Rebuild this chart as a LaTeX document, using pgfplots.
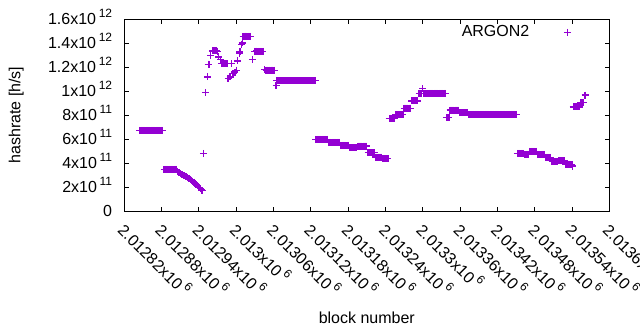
\documentclass[border=0pt]{standalone}
\usepackage{fontspec}
\setmainfont{Liberation Sans}
\usepackage{pgfplots}
\pgfplotsset{compat=1.18}
\usepackage{pgfplotstable}
\definecolor{argon}{RGB}{148,0,211}
\newcommand{\ex}[1]{\,\raisebox{0.48em}{\fontsize{12bp}{12bp}\selectfont #1}}
\newcommand{\bigf}{\fontsize{16bp}{19bp}\selectfont}
% x = block number - 2012820, y = hashrate in units of 1e11 h/s
\pgfplotstableread{
x y
25 6.72
27 6.72
29 6.72
31 6.72
33 6.72
35 6.72
37 6.72
39 6.72
41 6.72
43 6.72
45 6.72
47 6.72
49 6.72
51 6.72
53 6.72
55 6.72
57 6.72
59 6.72
61 6.72
64 3.47
66 3.47
68 3.47
70 3.47
72 3.47
74 3.47
76 3.47
78 3.47
80 3.47
82 3.47
84 3.47
86 3.30
88 3.20
90 3.12
92 3.06
94 3.01
96 2.96
98 2.91
100 2.86
102 2.80
104 2.73
106 2.65
108 2.57
110 2.49
112 2.40
114 2.31
116 2.20
118 2.09
120 1.97
122 1.86
124 1.75
125 1.70
127 4.81
131 9.89
134 11.19
135 12.25
136 12.20
139 12.95
142 13.36
144 13.36
146 13.38
148 13.36
150 13.34
152 12.86
155 12.64
157 12.31
159 12.31
161 12.33
163 12.31
165 12.30
167 11.06
170 11.19
172 12.30
175 11.47
178 11.60
181 11.75
182 12.53
185 13.14
186 13.28
189 13.92
190 14.03
191 14.58
193 14.58
195 14.60
197 14.58
199 14.58
201 14.57
203 14.58
206 12.64
209 13.33
211 13.33
213 13.35
215 13.33
217 13.33
219 13.32
221 13.33
223 13.33
226 11.80
228 11.75
230 11.75
232 11.73
234 11.75
236 11.75
238 11.75
240 11.72
242 11.75
244 10.47
245 10.88
247 10.88
249 10.88
251 10.88
253 10.88
255 10.88
257 10.88
259 10.88
261 10.88
263 10.88
265 10.88
267 10.88
269 10.88
271 10.88
273 10.88
275 10.88
277 10.88
279 10.88
281 10.88
283 10.88
285 10.88
287 10.88
289 10.88
291 10.88
293 10.88
295 10.88
297 10.88
299 10.88
301 10.88
303 10.88
305 10.88
307 10.88
308 5.97
310 5.97
312 5.97
314 5.97
316 5.97
318 5.97
320 5.97
322 5.97
324 5.97
326 5.97
328 5.72
330 5.72
332 5.72
334 5.72
336 5.72
338 5.72
340 5.72
342 5.72
344 5.72
346 5.72
348 5.48
350 5.48
352 5.48
354 5.48
356 5.48
358 5.48
360 5.48
362 5.30
364 5.30
366 5.30
368 5.30
370 5.30
372 5.30
374 5.30
376 5.42
378 5.42
380 5.42
382 5.42
384 5.42
386 5.42
388 5.42
390 5.42
392 4.88
394 4.88
396 4.88
398 4.88
400 4.88
402 4.88
404 4.50
406 4.50
408 4.50
410 4.50
412 4.50
414 4.50
416 4.36
418 4.36
420 4.36
422 4.36
424 4.36
426 7.72
428 7.72
430 7.72
432 7.72
434 7.72
436 8.03
438 8.03
440 8.03
442 8.03
444 8.03
446 8.03
448 8.03
450 8.58
452 8.58
454 8.58
456 8.58
458 8.58
460 8.58
462 9.19
464 9.19
466 9.19
468 9.19
470 9.19
472 9.19
474 9.78
476 9.78
478 9.78
480 10.22
481 9.81
482 9.81
484 9.81
486 9.81
488 9.81
490 9.81
492 9.81
494 9.81
496 9.81
498 9.81
500 9.81
502 9.81
504 9.81
506 9.81
508 9.81
510 9.81
512 9.81
514 9.81
516 9.81
518 7.80
520 7.80
522 7.80
524 8.42
526 8.42
528 8.42
530 8.42
532 8.42
534 8.42
536 8.42
538 8.42
540 8.21
542 8.21
544 8.21
546 8.21
548 8.21
550 8.21
552 8.21
554 8.06
556 8.06
558 8.06
560 8.06
562 8.06
564 8.06
566 8.06
568 8.06
570 8.06
572 8.06
574 8.06
576 8.06
578 8.06
580 8.06
582 8.06
584 8.06
586 8.06
588 8.06
590 8.06
592 8.06
594 8.06
596 8.06
598 8.06
600 8.06
602 8.06
604 8.06
606 8.06
608 8.06
610 8.06
612 8.06
614 8.06
616 8.06
618 8.06
620 8.06
622 8.06
624 8.06
626 8.06
628 8.06
630 8.06
632 4.81
634 4.81
636 4.81
638 4.81
640 4.81
642 4.81
644 4.72
646 4.72
648 4.72
650 4.72
652 4.98
654 4.98
656 4.98
658 4.98
660 4.98
662 4.98
664 4.72
666 4.72
668 4.72
670 4.72
672 4.72
674 4.72
676 4.72
678 4.47
680 4.47
682 4.47
684 4.47
686 4.47
688 4.11
690 4.11
692 4.11
694 4.11
696 4.11
698 4.19
700 4.19
702 4.19
704 4.19
706 4.19
708 4.19
710 3.90
712 3.90
714 3.90
716 3.90
718 3.90
720 3.90
721 3.75
722 8.69
724 8.69
726 8.69
728 8.69
730 8.69
732 8.69
734 9.03
736 9.03
738 9.03
741 9.67
}\argondata
\begin{document}
\bigf
\begin{tikzpicture}
\useasboundingbox (-124.3bp,-119bp) rectangle (515.7bp,211bp);
\begin{axis}[
  at={(0,0)}, anchor=south west,
  scale only axis, width=485bp, height=191.7bp,
  xmin=0, xmax=780, ymin=0, ymax=16,
  xtick={0,60,...,780},
  xticklabels={{2.01282x10\ex{6}},{2.01288x10\ex{6}},{2.01294x10\ex{6}},{2.013x10\ex{6}},{2.01306x10\ex{6}},{2.01312x10\ex{6}},{2.01318x10\ex{6}},{2.01324x10\ex{6}},{2.0133x10\ex{6}},{2.01336x10\ex{6}},{2.01342x10\ex{6}},{2.01348x10\ex{6}},{2.01354x10\ex{6}},{2.0136x10\ex{6}}},
  ytick={0,2,...,16},
  yticklabels={{0},{2x10\ex{11}},{4x10\ex{11}},{6x10\ex{11}},{8x10\ex{11}},{1x10\ex{12}},{1.2x10\ex{12}},{1.4x10\ex{12}},{1.6x10\ex{12}}},
  tick align=inside, major tick length=4.5bp,
  axis line style={line width=0.9bp},
  every tick/.style={black, line width=0.9bp},
  tick label style={font=\bigf},
  xticklabel style={xshift=4bp, yshift=-9bp, rotate=-45, anchor=north west, inner sep=0pt},
  yticklabel style={anchor=base east, inner sep=0pt, xshift=-12bp, yshift=-5.7bp},
  xlabel={block number},
  ylabel={hashrate [h/s]},
  label style={font=\bigf},
  xlabel style={at={(axis description cs:0.5,0)}, anchor=center, yshift=-107bp},
  ylabel style={at={(axis description cs:-0.2227,0.5)}, anchor=center},
  legend style={draw=none, fill=none, at={(0.965,0.932)}, anchor=east, inner sep=0pt, outer sep=0pt, column sep=11bp, font=\bigf, legend cell align=right},
  legend plot pos=right,
  legend image code/.code={\path[draw=none,fill=none] (0bp,-1bp) rectangle (50bp,1bp); \draw[mark repeat=2,mark phase=2,#1,line width=0.9bp] plot coordinates {(0bp,0bp) (25bp,0bp) (50bp,0bp)};},
]
\addplot[only marks, mark=+, mark size=3.5bp, color=argon, line width=1.3bp] table[x=x,y=y] {\argondata};
\addlegendentry{ARGON2}
\end{axis}
\end{tikzpicture}
\end{document}
